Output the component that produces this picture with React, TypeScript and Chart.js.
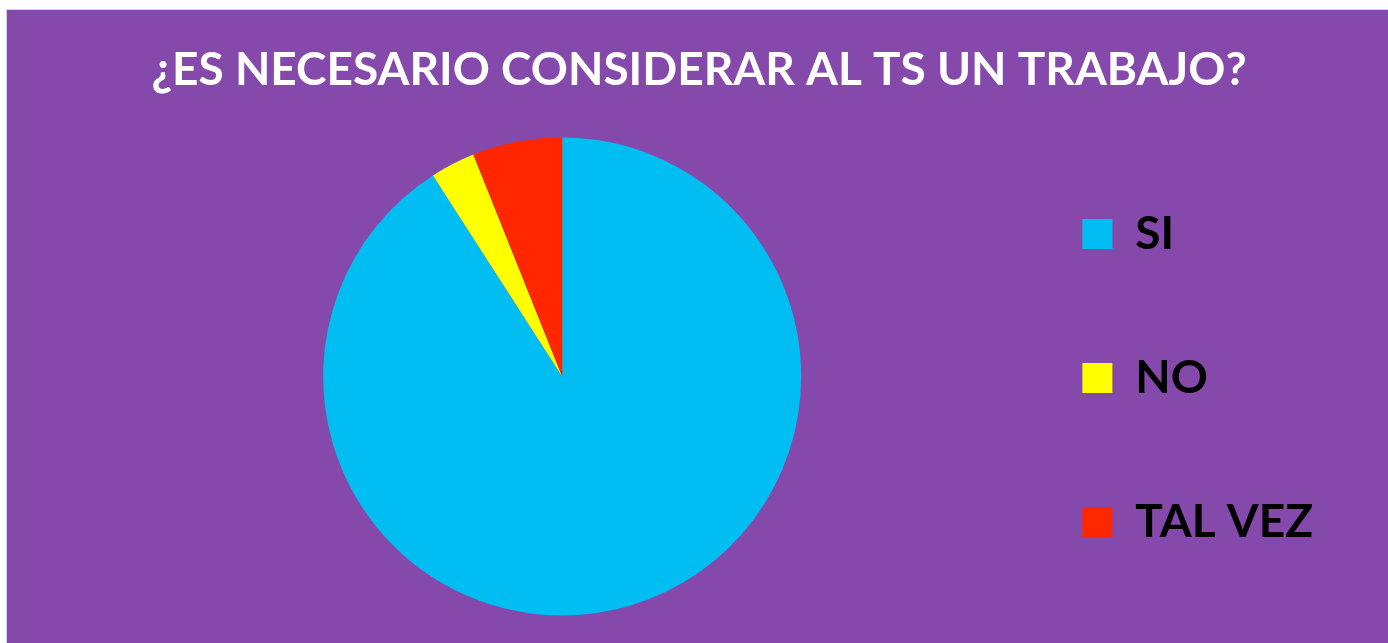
import { useEffect, useRef } from "react";
import { Chart, registerables } from "chart.js";

Chart.register(...registerables);

const TITLE = "¿ES NECESARIO CONSIDERAR AL TS UN TRABAJO?";
const labels = ["SI", "NO", "TAL VEZ"];
const values = [30, 1, 2];
const colors = ["#00BEF2", "#FFFF00", "#FF2600"];

// keep the title centred on the whole canvas, not on the padded layout area
const fullWidthTitle = {
  id: "fullWidthTitle",
  afterLayout(chart: any) {
    const t = chart.titleBlock;
    if (t) {
      t.left = 3;
      t.right = chart.width;
      t.width = chart.width - 3;
    }
  },
};

export default function App() {
  const ref = useRef<HTMLCanvasElement>(null);
  useEffect(() => {
    const chart = new Chart(ref.current as HTMLCanvasElement, {
      type: "pie",
      data: {
        labels,
        datasets: [
          {
            data: values,
            backgroundColor: colors,
            borderWidth: 0,
            radius: 239,
          } as any,
        ],
      },
      plugins: [fullWidthTitle],
      options: {
        responsive: false,
        animation: false,
        layout: { padding: { left: 133, right: 65, top: 0, bottom: 0 } },
        plugins: {
          title: {
            display: true,
            text: TITLE,
            color: "#ffffff",
            font: { family: "Lato", size: 46, weight: "bold", lineHeight: 1.2 },
            padding: { top: 32.4, bottom: 12.4 },
          },
          legend: {
            position: "right",
            align: "end",
            labels: {
              color: "#000000",
              font: { family: "Lato", size: 46, weight: "bold" },
              boxWidth: 30,
              boxHeight: 30,
              padding: 98,
            },
          },
          tooltip: { enabled: false },
        },
      },
    });
    return () => chart.destroy();
  }, []);

  return (
    <div
      style={{
        position: "absolute",
        left: 6,
        top: 9,
        borderLeft: "1px solid #d4d4d4",
        borderTop: "1px solid #d4d4d4",
      }}
    >
      <div style={{ width: 1381, height: 633, background: "#8549AC" }}>
        <canvas ref={ref} width={1381} height={633} style={{ display: "block" }} />
      </div>
    </div>
  );
}
